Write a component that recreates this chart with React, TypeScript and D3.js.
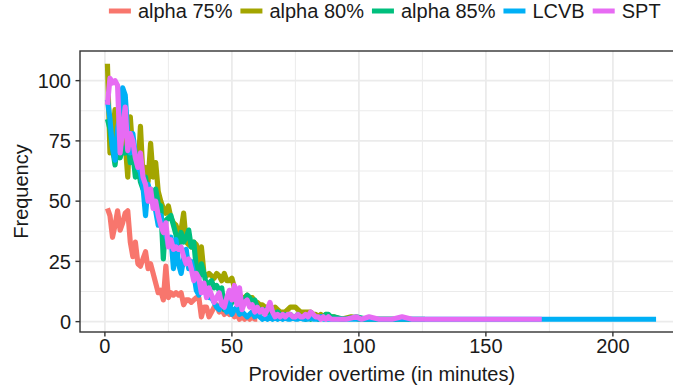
import React, { useMemo } from "react";
import * as d3 from "d3";

// Series labels and ggplot-style hue colours
const seriesNames = ["alpha 75%", "alpha 80%", "alpha 85%", "LCVB", "SPT"];
const seriesColors = ["#F8766D", "#A3A500", "#00BF7D", "#00B0F6", "#E76BF3"];

// Frequencies for overtime minutes 1, 2, 3, ...
const alpha75 = [
  47, 44, 35, 40, 46, 38, 41, 45, 46, 33,
  27, 33, 24, 23, 26, 29, 22, 24, 20, 16,
  12, 13, 9, 23, 10, 12, 11, 12, 11, 12,
  7, 9, 9, 8, 9, 10, 10, 2, 6, 6,
  2, 4, 6, 7, 4, 5, 3, 4, 3, 5,
  2, 3, 1, 2, 1, 2, 1, 2, 1, 1,
];
const alpha80 = [
  107, 70, 78, 88, 72, 84, 79, 74, 60, 85,
  70, 64, 62, 81, 60, 64, 58, 74, 60, 66,
  54, 50, 47, 45, 48, 43, 41, 40, 37, 38,
  45, 33, 32, 31, 33, 32, 22, 31, 20, 19,
  20, 19, 18, 20, 19, 17, 20, 17, 17, 18,
  14, 12, 11, 10, 10, 11, 10, 10, 8, 8,
  7, 7, 6, 6, 6, 5, 6, 5, 4, 4,
  4, 5, 6, 6, 6, 5, 4, 4, 4, 4,
  4, 3, 3, 2, 3, 2, 3, 2, 2, 2,
];
const alpha85 = [
  84, 80, 72, 65, 74, 68, 72, 70, 75, 66,
  70, 60, 64, 58, 55, 60, 52, 55, 50, 55,
  49, 48, 26, 42, 43, 44, 40, 36, 30, 37,
  33, 35, 38, 31, 33, 22, 18, 24, 20, 15,
  16, 17, 14, 15, 13, 14, 5, 10, 6, 8,
  10, 8, 9, 7, 9, 11, 10, 8, 9, 6,
  5, 4, 5, 4, 3, 4, 3, 4, 3, 2,
  3, 2, 3, 2, 2, 3, 2, 2, 1, 2,
  1, 2, 2, 1, 2, 2, 3, 3, 2, 2,
];
const lcvb = [
  92, 84, 72, 67, 80, 86, 97, 94, 78, 70,
  78, 69, 64, 62, 56, 44, 57, 52, 50, 46,
  40, 44, 38, 36, 32, 35, 22, 34, 24, 20,
  26, 30, 22, 25, 20, 13, 11, 15, 14, 12,
  10, 10, 8, 6, 5, 8, 6, 4, 8, 3,
  5, 6, 3, 4, 3, 2, 3, 4, 2, 3,
  2, 1, 2, 1, 2, 1, 2, 1, 2, 1,
  2, 1, 1, 2, 1, 1, 2, 1, 1, 1,
  2, 1, 1, 1, 2, 1, 1, 1, 1, 1,
];
const spt = [
  90, 101, 99, 100, 98, 70, 80, 89, 71, 78,
  75, 68, 64, 70, 60, 57, 50, 55, 47, 50,
  44, 40, 37, 41, 31, 34, 30, 31, 30, 31,
  27, 24, 26, 22, 17, 20, 18, 12, 16, 10,
  14, 11, 8, 10, 12, 7, 6, 10, 13, 9,
  15, 7, 14, 5, 8, 9, 6, 7, 4, 6,
  4, 5, 3, 5, 8, 4, 2, 3, 2, 3,
  2, 3, 3, 2, 2, 3, 2, 2, 3, 2,
  4, 3, 2, 2, 1, 2, 1, 2, 1, 1,
];

// Sparse long-tail observations: [minutes, frequency]
const alpha75Tail: [number, number][] = [];
const alpha80Tail: [number, number][] = [[93, 1], [97, 2], [100, 1], [106, 1], [113, 1], [120, 1]];
const alpha85Tail: [number, number][] = [[94, 1], [99, 2], [103, 1], [110, 1], [118, 1], [126, 1]];
const lcvbTail: [number, number][] = [
  [94, 1], [98, 1], [103, 1], [110, 1], [120, 1], [135, 1], [150, 1], [170, 1], [190, 1], [217, 1],
];
const sptTail: [number, number][] = [
  [95, 1], [99, 2], [101, 1], [104, 2], [108, 1], [113, 1], [117, 2], [121, 1], [130, 1], [145, 1], [160, 1], [172, 1],
];

const xTicks = [0, 50, 100, 150, 200];
const yTicks = [0, 25, 50, 75, 100];

const W = 673;
const H = 390;
const panel = { left: 80, top: 51, right: 683.5, bottom: 332 };
const FONT = "'Liberation Sans', Arial, Helvetica, sans-serif";
const FS = 20;
const TEXT = "#1A1A1A";

function toPoints(dense: number[], tail: [number, number][]): [number, number][] {
  return [...dense.map((v, i) => [i + 1, v] as [number, number]), ...tail];
}

export default function App() {
  const series = useMemo(
    () =>
      [
        toPoints(alpha75, alpha75Tail),
        toPoints(alpha80, alpha80Tail),
        toPoints(alpha85, alpha85Tail),
        toPoints(lcvb, lcvbTail),
        toPoints(spt, sptTail),
      ].map((points, i) => ({ name: seriesNames[i], color: seriesColors[i], points })),
    []
  );

  const all = series.flatMap((s) => s.points);
  const [xMin, xMax] = d3.extent(all, (p) => p[0]) as [number, number];
  const [yMin, yMax] = d3.extent(all, (p) => p[1]) as [number, number];
  const xPad = (xMax - xMin) * 0.05;
  const yPad = (yMax - yMin) * 0.05;
  const x = d3.scaleLinear().domain([xMin - xPad, xMax + xPad]).range([panel.left, panel.right]);
  const y = d3.scaleLinear().domain([yMin - yPad, yMax + yPad]).range([panel.bottom, panel.top]);

  const line = d3
    .line<[number, number]>()
    .x((p) => x(p[0]))
    .y((p) => y(p[1]));

  const xMinor = xTicks.slice(0, -1).map((t, i) => (t + xTicks[i + 1]) / 2).concat([225]);
  const yMinor = yTicks.slice(0, -1).map((t, i) => (t + yTicks[i + 1]) / 2);

  // Legend layout, measured with the same font as the drawn text
  const legend = useMemo(() => {
    const ctx = document.createElement("canvas").getContext("2d")!;
    ctx.font = `${FS}px ${FONT}`;
    const keyW = 22;
    const keyGap = 7;
    const itemGap = 8;
    const widths = seriesNames.map((n) => ctx.measureText(n).width);
    const total =
      widths.reduce((a, b) => a + b, 0) + seriesNames.length * (keyW + keyGap) + (seriesNames.length - 1) * itemGap;
    const center = (panel.left + panel.right) / 2 + 3;
    let cx = center - total / 2;
    return widths.map((w) => {
      const item = { keyX: cx, textX: cx + keyW + keyGap, keyW };
      cx += keyW + keyGap + w + itemGap;
      return item;
    });
  }, []);

  return (
    <svg
      width={W}
      height={H}
      viewBox={`0 0 ${W} ${H}`}
      style={{ position: "absolute", left: 0, top: 0, background: "#fff" }}
      fontFamily={FONT}
    >
      <defs>
        <clipPath id="panel-clip">
          <rect x={panel.left} y={panel.top} width={panel.right - panel.left} height={panel.bottom - panel.top} />
        </clipPath>
      </defs>
      <rect x={0} y={0} width={W} height={H} fill="#fff" />

      {/* grid */}
      <g clipPath="url(#panel-clip)">
        {yMinor.map((t) => (
          <line key={`ym${t}`} x1={panel.left} x2={panel.right} y1={y(t)} y2={y(t)} stroke="#EBEBEB" strokeWidth={1} />
        ))}
        {xMinor.map((t) => (
          <line key={`xm${t}`} y1={panel.top} y2={panel.bottom} x1={x(t)} x2={x(t)} stroke="#EBEBEB" strokeWidth={1} />
        ))}
        {yTicks.map((t) => (
          <line key={`yM${t}`} x1={panel.left} x2={panel.right} y1={y(t)} y2={y(t)} stroke="#EBEBEB" strokeWidth={1.8} />
        ))}
        {xTicks.map((t) => (
          <line key={`xM${t}`} y1={panel.top} y2={panel.bottom} x1={x(t)} x2={x(t)} stroke="#EBEBEB" strokeWidth={1.8} />
        ))}
      </g>

      {/* series lines */}
      <g clipPath="url(#panel-clip)">
        {series.map((s) => (
          <path
            key={s.name}
            d={line(s.points) ?? ""}
            fill="none"
            stroke={s.color}
            strokeWidth={5.2}
            strokeLinejoin="round"
            strokeLinecap="butt"
          />
        ))}
      </g>

      {/* panel border */}
      <rect
        x={panel.left}
        y={panel.top}
        width={panel.right - panel.left}
        height={panel.bottom - panel.top}
        fill="none"
        stroke="#333333"
        strokeWidth={1.4}
      />

      {/* x axis */}
      {xTicks.map((t) => (
        <g key={`xt${t}`}>
          <line x1={x(t)} x2={x(t)} y1={panel.bottom} y2={panel.bottom + 4.5} stroke="#333333" strokeWidth={1.4} />
          <text x={x(t)} y={352.5} textAnchor="middle" fontSize={FS} fill={TEXT}>
            {t}
          </text>
        </g>
      ))}
      <text x={(panel.left + panel.right) / 2} y={380.5} textAnchor="middle" fontSize={FS} fill={TEXT}>
        Provider overtime (in minutes)
      </text>

      {/* y axis */}
      {yTicks.map((t) => (
        <g key={`yt${t}`}>
          <line x1={panel.left - 4.5} x2={panel.left} y1={y(t)} y2={y(t)} stroke="#333333" strokeWidth={1.4} />
          <text x={71} y={y(t) + 7.2} textAnchor="end" fontSize={FS} fill={TEXT}>
            {t}
          </text>
        </g>
      ))}
      <text
        transform={`translate(28, ${(panel.top + panel.bottom) / 2}) rotate(-90)`}
        textAnchor="middle"
        fontSize={FS}
        fill={TEXT}
      >
        Frequency
      </text>

      {/* legend */}
      {series.map((s, i) => (
        <g key={`lg${s.name}`}>
          <line
            x1={legend[i].keyX}
            x2={legend[i].keyX + legend[i].keyW}
            y1={11}
            y2={11}
            stroke={s.color}
            strokeWidth={5}
          />
          <text x={legend[i].textX} y={17.5} fontSize={FS} fill={TEXT}>
            {s.name}
          </text>
        </g>
      ))}
    </svg>
  );
}
